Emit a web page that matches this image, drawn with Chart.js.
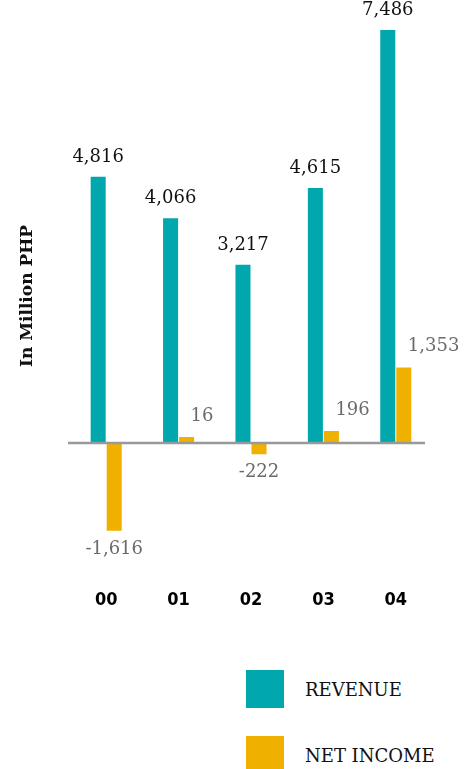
<!DOCTYPE html>
<html>
<head>
<meta charset="utf-8">
<script src="https://cdn.jsdelivr.net/npm/chart.js@4.4.0/dist/chart.umd.min.js"></script>
<style>
  body { margin: 0; background: #fff; }
  #wrap { position: relative; width: 474px; height: 769px; overflow: hidden; }
  #chartBox { position: absolute; left: 0; top: 0; width: 474px; height: 640px; }
  #legend { position: absolute; left: 246px; top: 670px; }
  .item { display: flex; align-items: center; height: 38px; margin-bottom: 28px;
          font-family: "DejaVu Serif", serif; font-size: 18px; color: #111; }
  .swatch { width: 38px; height: 38px; margin-right: 21px; }
</style>
</head>
<body>
<div id="wrap">
  <div id="chartBox"><canvas id="barChart"></canvas></div>
  <div id="legend"></div>
</div>
<script>
// data
var years = ['00', '01', '02', '03', '04'];
var revenue = [4816, 4066, 3217, 4615, 7486];
var netIncome = [-1616, 16, -222, 196, 1353];
var seriesNames = ['REVENUE', 'NET INCOME'];
var seriesColors = ['#00a8ad', '#f0b000'];

// value labels over / under the bars
var valueLabels = {
  id: 'valueLabels',
  afterDatasetsDraw: function (chart) {
    var ctx = chart.ctx;
    ctx.save();
    ctx.font = '18px "DejaVu Serif"';
    chart.data.datasets.forEach(function (ds, i) {
      var meta = chart.getDatasetMeta(i);
      meta.data.forEach(function (bar, j) {
        var v = ds.data[j];
        var txt = v.toLocaleString('en-US');
        if (i === 0) {
          ctx.fillStyle = '#111';
          ctx.textAlign = 'center';
          ctx.textBaseline = 'alphabetic';
          ctx.fillText(txt, bar.x, bar.y - 15);
        } else if (v >= 0) {
          ctx.fillStyle = '#6a6a6a';
          ctx.textAlign = 'left';
          ctx.textBaseline = 'alphabetic';
          ctx.fillText(txt, bar.x + 4, bar.y - 16);
        } else {
          ctx.fillStyle = '#6a6a6a';
          ctx.textAlign = 'center';
          ctx.textBaseline = 'top';
          ctx.fillText(txt, bar.x, bar.y + 9);
        }
      });
    });
    // zero line
    var y0 = chart.scales.y.getPixelForValue(0) + 1;
    ctx.strokeStyle = '#999';
    ctx.lineWidth = 2.5;
    ctx.beginPath();
    ctx.moveTo(chart.chartArea.left - 2, y0);
    ctx.lineTo(chart.chartArea.right - 7, y0);
    ctx.stroke();
    ctx.restore();
  }
};

// rotated axis title
var axisTitle = {
  id: 'axisTitle',
  afterDraw: function (chart) {
    var ctx = chart.ctx;
    ctx.save();
    ctx.translate(28, 296);
    ctx.rotate(-Math.PI / 2);
    ctx.font = 'bold 17px "DejaVu Serif"';
    ctx.fillStyle = '#111';
    ctx.textAlign = 'center';
    ctx.textBaseline = 'middle';
    ctx.fillText('In Million PHP', 0, 0);
    ctx.restore();
  }
};

var ctx = document.getElementById('barChart').getContext('2d');
var chart = new Chart(ctx, {
  type: 'bar',
  data: {
    labels: years,
    datasets: [{
      label: seriesNames[0],
      data: revenue,
      backgroundColor: seriesColors[0]
    }, {
      label: seriesNames[1],
      data: netIncome,
      backgroundColor: seriesColors[1]
    }]
  },
  options: {
    responsive: true,
    maintainAspectRatio: false,
    animation: false,
    categoryPercentage: 0.443,
    barPercentage: 0.9375,
    minBarLength: 5,
    layout: { padding: { left: 70, right: 42, top: 0, bottom: 11 } },
    plugins: {
      legend: { display: false },
      tooltip: { enabled: false }
    },
    scales: {
      x: {
        grid: { display: false, drawTicks: false },
        border: { display: false },
        ticks: {
          padding: 18,
          color: '#000',
          font: { family: '"DejaVu Sans Condensed", "DejaVu Sans", sans-serif', size: 18, weight: 'bold' }
        }
      },
      y: {
        display: false,
        min: -2353,
        max: 8030
      }
    }
  },
  plugins: [valueLabels, axisTitle]
});

// legend below the chart
var legend = document.getElementById('legend');
chart.data.datasets.forEach(function (ds) {
  var item = document.createElement('div');
  item.className = 'item';
  var sw = document.createElement('span');
  sw.className = 'swatch';
  sw.style.background = ds.backgroundColor;
  item.appendChild(sw);
  item.appendChild(document.createTextNode(ds.label));
  legend.appendChild(item);
});
</script>
</body>
</html>
